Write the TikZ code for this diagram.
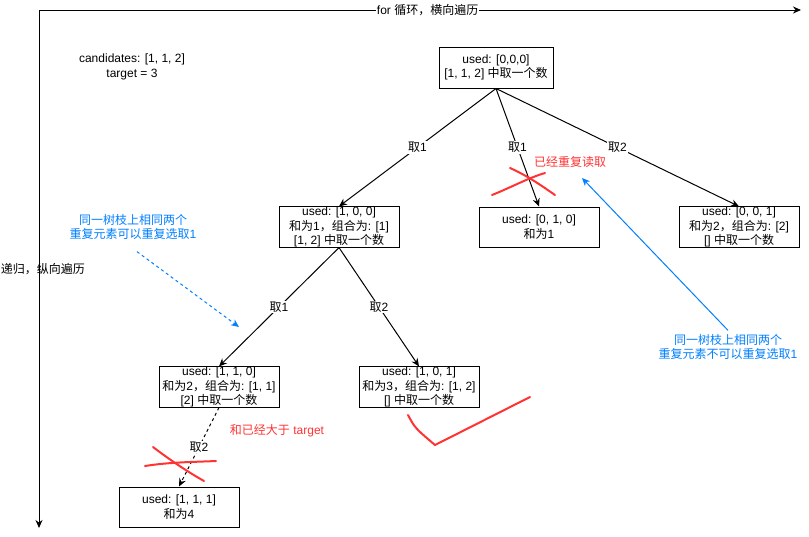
\documentclass[tikz,border=0pt]{standalone}
\usepackage{fontspec}
\setmainfont{Liberation Sans}
\newfontfamily\cjkfont{Noto Sans CJK SC}
\usetikzlibrary{positioning,arrows.meta}
\definecolor{hong}{HTML}{FF3333}
\definecolor{lan}{HTML}{007FFF}
\newcommand{\cn}[1]{{\cjkfont #1}}

\begin{document}
\begin{tikzpicture}[x=1pt, y=-1pt, line width=1pt, font=\fontsize{12}{14.5}\selectfont,
      >={Stealth[length=8pt,width=7pt]},
      box/.style={draw, minimum width=120pt, minimum height=40pt, align=center, inner sep=0pt},
      lbl/.style={fill=white, inner sep=1pt},
      redpen/.style={draw=hong, line width=2pt, line cap=round, line join=round}]
    \useasboundingbox (0,0) rectangle (809,536);
    % axes
    \coordinate (o) at (39,10);
    \coordinate (xend) at (801,10);
    \coordinate (yend) at (39,528);
    \draw[->] (o) -- node[lbl, pos=0.51]{for \cn{循环，横向遍历}} (xend);
    \draw[->] (o) -- node[pos=0.5, xshift=4pt]{\cn{递归，纵向遍历}} (yend);
    \node[align=center] (info) at (132,67) {candidates: [1, 1, 2]\\target = 3};
    % tree
    \node[box, minimum width=114pt, minimum height=41pt] (root) at (496,67.5)
        {used: [0,0,0]\\{}[1, 1, 2] \cn{中取一个数}};
    \begin{scope}[on grid]
    \node[box, below left=159.5pt and 157pt of root] (n100)
        {used: [1, 0, 0]\\\cn{和为}1\cn{，组合为}: [1]\\{}[1, 2] \cn{中取一个数}};
    \node[box, below right=159.5pt and 43pt of root] (n010)
        {used: [0, 1, 0]\\\cn{和为}1};
    \node[box, below right=159.5pt and 243pt of root] (n001)
        {used: [0, 0, 1]\\\cn{和为}2\cn{，组合为}: [2]\\{}[] \cn{中取一个数}};
    \node[box, below left=160pt and 120pt of n100] (n110)
        {used: [1, 1, 0]\\\cn{和为}2\cn{，组合为}: [1, 1]\\{}[2] \cn{中取一个数}};
    \node[box, below right=160pt and 80pt of n100] (n101)
        {used: [1, 0, 1]\\\cn{和为}3\cn{，组合为}: [1, 2]\\{}[] \cn{中取一个数}};
    \node[box, below left=120pt and 40pt of n110] (n111)
        {used: [1, 1, 1]\\\cn{和为}4};
    \end{scope}
    \draw[->] (root.south) -- node[lbl]{\cn{取}1} (n100.north);
    \draw[->] (root.south) -- node[lbl]{\cn{取}1} (n010.north);
    \draw[->] (root.south) -- node[lbl]{\cn{取}2} (n001.north);
    \draw[->] (n100.south) -- node[lbl]{\cn{取}1} (n110.north);
    \draw[->] (n100.south) -- node[lbl]{\cn{取}2} (n101.north);
    \draw[->, dashed] (n110.south) -- node[lbl]{\cn{取}2} (n111.north);
    % notes
    \node[text=hong] (dup) at (570,162) {\cn{已经重复读取}};
    \node[text=hong] (over) at (277,431) {\cn{和已经大于} target};
    \node[text=lan, align=center] (canrep) at (133,227) {\cn{同一树枝上相同两个}\\\cn{重复元素可以重复选取}1};
    \node[text=lan, align=center] (norep) at (728,347) {\cn{同一树枝上相同两个}\\\cn{重复元素不可以重复选取}1};
    \coordinate (hint) at (239,327);
    \coordinate (dupmark) at (582,178);
    \draw[lan, dashed, ->] ([xshift=4pt,yshift=-8pt]canrep.south) -- (hint);
    \draw[lan, ->] (norep.north) -- (dupmark);
    % red marks
    \draw[redpen] (492,195) .. controls (512,187) and (528,178) .. (545,173);
    \draw[redpen] (510,168) .. controls (528,176) and (542,186) .. (555,195);
    \draw[redpen] (145,466) .. controls (170,462) and (195,462) .. (216,461);
    \draw[redpen] (153,447) .. controls (170,460) and (188,472) .. (204,481);
    \draw[redpen] (408,415) .. controls (415,428) .. (435,445) -- (530,397);
  \end{tikzpicture}
\end{document}
